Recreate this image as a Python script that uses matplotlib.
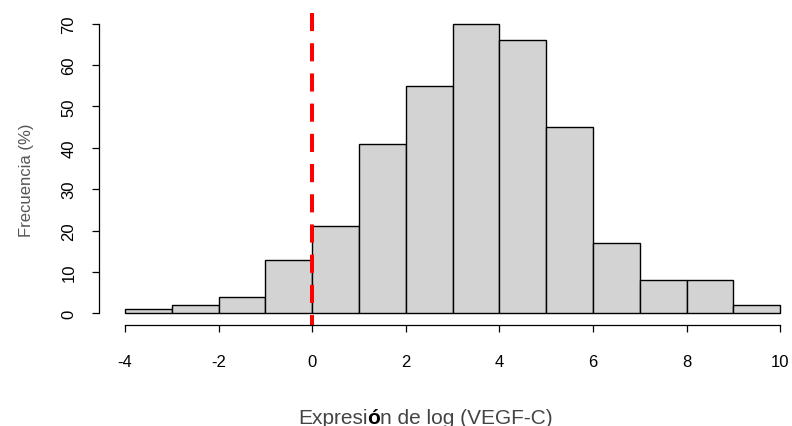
import matplotlib
matplotlib.use("Agg")
import matplotlib.pyplot as plt
import numpy as np

# histogram bins (log VEGF-C expression) and counts per bin
bin_edges = [-4, -3, -2, -1, 0, 1, 2, 3, 4, 5, 6, 7, 8, 9, 10]
counts = [1, 2, 4, 13, 21, 41, 55, 70, 66, 45, 17, 8, 8, 2]
x_ticks = [-4, -2, 0, 2, 4, 6, 8, 10]
y_ticks = [0, 10, 20, 30, 40, 50, 60, 70]
cutoff = 0

plt.rcParams['font.family'] = ['Liberation Sans', 'DejaVu Sans']

fig = plt.figure(figsize=(7.92, 4.27), dpi=100)
ax = fig.add_axes([98.8 / 792, 101 / 427, 1 - 98.8 / 792, 313 / 427])

edges = np.array(bin_edges, dtype=float)
ax.bar(edges[:-1], counts, width=np.diff(edges), align='edge',
       color='#d3d3d3', edgecolor='black', linewidth=1.0)

# R-like limits: data range padded by 4%
ax.set_xlim(-4.56, 10.25)
ax.set_ylim(-2.8, 72.8)

# dashed cutoff line over the full plot height
ax.plot([cutoff, cutoff], [72.5, -2.8], color='#ff0000', linewidth=2.9,
        dashes=(4.5, 3.0), clip_on=False, solid_capstyle='butt',
        dash_capstyle='butt')

for side in ['top', 'right']:
    ax.spines[side].set_visible(False)
ax.spines['left'].set_bounds(0, 70)
ax.spines['bottom'].set_bounds(-4, 10)
ax.spines['left'].set_linewidth(0.9)
ax.spines['bottom'].set_linewidth(0.9)

ax.set_xticks(x_ticks)
ax.set_xticklabels([str(t) for t in x_ticks])
ax.set_yticks(y_ticks)
ax.set_yticklabels([str(t) for t in y_ticks], rotation=90, va='center')
ax.tick_params(axis='x', length=5, width=0.9, pad=16, labelsize=12)
ax.tick_params(axis='y', length=5, width=0.9, pad=11, labelsize=12)

fig.text(26 / 792, 1 - 180 / 427, 'Frecuencia (%)', rotation=90,
         ha='center', va='center', fontsize=12, color='#555555')

# x label with the accented letter in bold
t1 = fig.text(298 / 792, 1 - 424 / 427, 'Expresi', ha='left', va='baseline',
              fontsize=15, color='#444444')
t2 = ax.annotate('ó', xy=(1, 0), xycoords=t1, ha='left', va='bottom',
                 fontsize=15, fontweight='bold', color='black')
ax.annotate('n de log (VEGF-C)', xy=(1, 0), xycoords=t2, ha='left',
            va='bottom', fontsize=15, color='#444444')

fig.savefig('out.png', dpi=100)
